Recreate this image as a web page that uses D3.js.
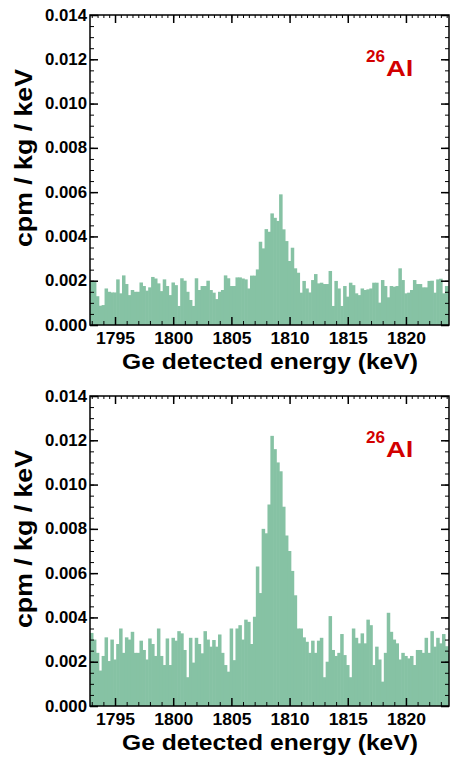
<!DOCTYPE html>
<html>
<head>
<meta charset="utf-8">
<script src="https://cdn.jsdelivr.net/npm/d3@7"></script>
<style>
  body { margin: 0; background: #fff; }
  svg text { font-family: "Liberation Sans", Arial, sans-serif; font-weight: bold; }
</style>
</head>
<body>
<div id="chart"></div>
<script>
// histogram bins: 0.25 keV wide, starting at the left edge of the axis
var binStart = 1792.85,
  binWidth = 0.25;

// cpm / kg / keV per bin, upper panel
var topRate = [
  0.00198, 0.00195, 0.0013, 0.00087, 0.0009, 0.00165, 0.0015, 0.00147, 0.00147, 0.00206,
  0.00143, 0.00224, 0.00185, 0.00135, 0.00158, 0.0015, 0.0015, 0.00192, 0.00176, 0.00155,
  0.0017, 0.00217, 0.0021, 0.00188, 0.00153, 0.00206, 0.00176, 0.00135, 0.00192, 0.0018,
  0.00086, 0.00211, 0.002, 0.0015, 0.00113, 0.00086, 0.00211, 0.00158, 0.00176, 0.00176,
  0.002, 0.00158, 0.00146, 0.00117, 0.0015, 0.00158, 0.00224, 0.00211, 0.00176, 0.00176,
  0.00215, 0.00215, 0.0021, 0.00206, 0.00165, 0.00223, 0.00223, 0.00251, 0.00376, 0.00346,
  0.00433, 0.00421, 0.00504, 0.00484, 0.0047, 0.0059, 0.00432, 0.00379, 0.00289, 0.00349,
  0.00256, 0.00236, 0.00146, 0.00199, 0.00165, 0.00147, 0.00203, 0.0023, 0.00188, 0.00191,
  0.00185, 0.00185, 0.00244, 0.00086, 0.00199, 0.00165, 0.00086, 0.00176, 0.00128, 0.00191,
  0.0018, 0.00143, 0.00135, 0.00165, 0.00158, 0.00161, 0.00165, 0.00191, 0.00191, 0.00101,
  0.00203, 0.00176, 0.00125, 0.00176, 0.00173, 0.00176, 0.00256, 0.00203, 0.00143, 0.00146,
  0.00158, 0.00203, 0.00185, 0.00185, 0.0017, 0.0017, 0.00199, 0.002, 0.00146, 0.00206,
  0.00209, 0.00143, 0.00176, 0.00158
];

// cpm / kg / keV per bin, lower panel
var bottomRate = [
  0.0033, 0.003, 0.0024, 0.0016, 0.00226, 0.0031, 0.00203, 0.003, 0.0021, 0.0028,
  0.0035, 0.0024, 0.0031, 0.003, 0.00335, 0.0024, 0.0024, 0.00295, 0.00253, 0.0021,
  0.00305, 0.0028, 0.00226, 0.0035, 0.00226, 0.00185, 0.00305, 0.00185, 0.00308, 0.00295,
  0.00338, 0.00328, 0.00253, 0.0013, 0.00308, 0.00196, 0.00308, 0.0028, 0.00238, 0.00338,
  0.003, 0.00268, 0.00298, 0.00268, 0.00323, 0.0024, 0.00185, 0.00155, 0.0035, 0.00207,
  0.0035, 0.00365, 0.003, 0.0039, 0.0038, 0.0028, 0.00403, 0.0063, 0.0051, 0.008,
  0.0078, 0.0091, 0.0122, 0.0116, 0.011, 0.0106, 0.009, 0.0077, 0.007, 0.0061,
  0.005, 0.0035, 0.0035, 0.0031, 0.0029, 0.0024, 0.00295, 0.0024, 0.00295, 0.00308,
  0.0013, 0.002, 0.00406, 0.00253, 0.00226, 0.0024, 0.00325, 0.0023, 0.00185, 0.0013,
  0.0035, 0.00308, 0.00283, 0.00328, 0.00283, 0.0039, 0.00365, 0.00185, 0.00268, 0.0021,
  0.0011, 0.0024, 0.00421, 0.00335, 0.003, 0.00283, 0.0021, 0.0024, 0.00226, 0.00215,
  0.00226, 0.00185, 0.00253, 0.00253, 0.0024, 0.00308, 0.0024, 0.00338, 0.00268, 0.00308,
  0.00283, 0.00325, 0.0027, 0.00238
];

var xTicks = [1795, 1800, 1805, 1810, 1815, 1820];
var yTicks = [0, 0.002, 0.004, 0.006, 0.008, 0.01, 0.012, 0.014];
var xTitle = "Ge detected energy (keV)",
  yTitle = "cpm / kg / keV",
  isoMass = "26",
  isoName = "Al";

var w = 451,
  h = 758,
  left = 90,
  right = 449,
  plotH = 310,
  barColor = "rgb(134, 194, 164)";

var svg = d3.select("#chart").append("svg").attr("width", w).attr("height", h);

var x = d3.scaleLinear().domain([1792.85, 1823.7]).range([left, right]);

drawPanel(topRate, 15, "top");
drawPanel(bottomRate, 396, "bottom");

function drawPanel(rate, y0, id) {
  var y1 = y0 + plotH;
  var y = d3.scaleLinear().domain([0, 0.014]).range([y1, y0]);
  var g = svg.append("g");

  g.append("clipPath")
    .attr("id", "clip-" + id)
    .append("rect")
    .attr("x", left)
    .attr("y", y0)
    .attr("width", right - left)
    .attr("height", plotH);

  //bars, a little wider so neighbours overlap and leave no seams
  g.append("g")
    .attr("clip-path", "url(#clip-" + id + ")")
    .selectAll("rect")
    .data(rate)
    .enter()
    .append("rect")
    .attr("x", function (d, i) {
      return x(binStart + i * binWidth);
    })
    .attr("width", function (d, i) {
      return x(binStart + (i + 1) * binWidth) - x(binStart + i * binWidth) + 0.6;
    })
    .attr("y", function (d) {
      return y(d);
    })
    .attr("height", function (d) {
      return y1 - y(d);
    })
    .attr("fill", barColor);

  var xMinor = d3.range(1793, 1824, 1).filter(function (v) {
    return v % 5 != 0;
  });
  var xHalf = d3.range(1793, 1824, 0.5);
  var yMinor = d3.range(0, 0.01401, 0.0005);

  // minor ticks on all four sides
  addAxis(g, d3.axisBottom(x).tickValues(xMinor).tickSize(-4), 0, y1, 1);
  addAxis(g, d3.axisTop(x).tickValues(xHalf).tickSize(-3), 0, y0, 1);
  addAxis(g, d3.axisLeft(y).tickValues(yMinor).tickSize(-4), left, 0, 1);
  addAxis(g, d3.axisRight(y).tickValues(yMinor).tickSize(-4), right, 0, 1);

  // major ticks
  var xb = addAxis(
    g,
    d3.axisBottom(x).tickValues(xTicks).tickSize(-8).tickPadding(8).tickFormat(d3.format("d")),
    0, y1, 1.5
  );
  xb.selectAll("text")
    .attr("font-size", 16)
    .attr("fill", "#000")
    .attr("textLength", 39)
    .attr("lengthAdjust", "spacingAndGlyphs");
  addAxis(g, d3.axisTop(x).tickValues(xTicks).tickSize(-8), 0, y0, 1.5);
  var yl = addAxis(
    g,
    d3.axisLeft(y).tickValues(yTicks).tickSize(-8).tickPadding(3).tickFormat(d3.format(".3f")),
    left, 0, 1.5
  );
  yl.selectAll("text")
    .attr("font-size", 16)
    .attr("fill", "#000")
    .attr("textLength", 42)
    .attr("lengthAdjust", "spacingAndGlyphs");
  addAxis(g, d3.axisRight(y).tickValues(yTicks).tickSize(-8), right, 0, 1.5);

  g.append("rect")
    .attr("x", left)
    .attr("y", y0)
    .attr("width", right - left)
    .attr("height", plotH)
    .attr("fill", "none")
    .attr("stroke", "#000")
    .attr("stroke-width", 1.5);

  // titles
  g.append("text")
    .attr("x", 270)
    .attr("y", y1 + 44)
    .attr("text-anchor", "middle")
    .attr("font-size", 22.5)
    .attr("textLength", 296)
    .attr("lengthAdjust", "spacingAndGlyphs")
    .text(xTitle);

  g.append("text")
    .attr("transform", "translate(32," + (y0 + 143) + ") rotate(-90)")
    .attr("text-anchor", "middle")
    .attr("font-size", 24)
    .attr("textLength", 178)
    .attr("lengthAdjust", "spacingAndGlyphs")
    .text(yTitle);

  // isotope label
  g.append("text")
    .attr("x", 366)
    .attr("y", y0 + 47)
    .attr("font-size", 16.5)
    .attr("fill", "rgb(210, 0, 0)")
    .attr("textLength", 19)
    .attr("lengthAdjust", "spacingAndGlyphs")
    .text(isoMass);
  g.append("text")
    .attr("x", 386)
    .attr("y", y0 + 61)
    .attr("font-size", 22.5)
    .attr("fill", "rgb(210, 0, 0)")
    .attr("textLength", 27.5)
    .attr("lengthAdjust", "spacingAndGlyphs")
    .text(isoName);
}

function addAxis(g, axis, tx, ty, sw) {
  var a = g.append("g")
    .attr("transform", "translate(" + tx + "," + ty + ")")
    .call(axis.tickSizeOuter(0));
  a.select(".domain").remove();
  a.selectAll("line").attr("stroke", "#000").attr("stroke-width", sw);
  if (!axis.tickFormat()) a.selectAll("text").remove();
  return a;
}
</script>
</body>
</html>
